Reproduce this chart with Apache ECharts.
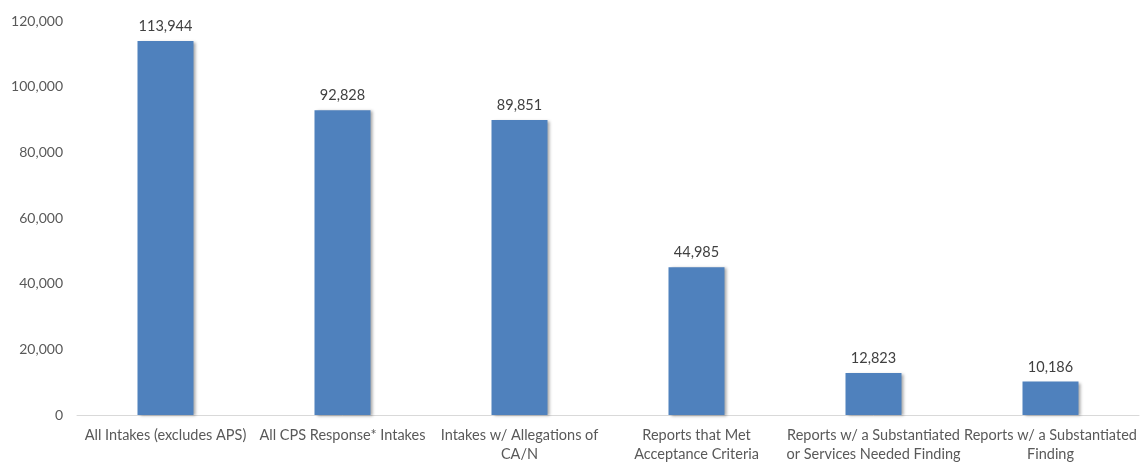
<!DOCTYPE html>
<html><head><meta charset="utf-8">
<script src="https://cdn.jsdelivr.net/npm/echarts@6/dist/echarts.min.js"></script>
<style>html,body{margin:0;padding:0;background:#fff;overflow:hidden}#c{width:1141px;height:464px}</style>
</head><body><div id="c"></div>
<script>
const categories = [
  "All Intakes (excludes APS)",
  "All CPS Response* Intakes",
  "Intakes w/ Allegations of\nCA/N",
  "Reports that Met\nAcceptance Criteria",
  "Reports w/ a Substantiated\nor Services Needed Finding",
  "Reports w/ a Substantiated\nFinding"
];
const values = [113944, 92828, 89851, 44985, 12823, 10186];

const chart = echarts.init(document.getElementById('c'));
const fmt = v => v.toLocaleString('en-US');
chart.setOption({
  animation: false,
  grid: { left: 77, right: 2, top: 21, bottom: 48, containLabel: false },
  xAxis: {
    type: 'category', data: categories,
    axisLine: { lineStyle: { color: '#d9d9d9', width: 1 } },
    axisTick: { show: false },
    axisLabel: { interval: 0, color: '#595959', fontFamily: 'Lato', fontSize: 14.5, lineHeight: 19, margin: 11, overflow: 'none' }
  },
  yAxis: {
    type: 'value', min: 0, max: 120000, interval: 20000,
    axisLine: { show: false }, axisTick: { show: false }, splitLine: { show: false },
    axisLabel: { color: '#595959', fontFamily: 'Lato', fontSize: 14, margin: 14, formatter: v => fmt(v) }
  },
  series: [{
    type: 'bar', data: values, barWidth: 56,
    itemStyle: { color: '#4F81BD', shadowColor: 'rgba(0,0,0,0.35)', shadowBlur: 3, shadowOffsetX: 2, shadowOffsetY: 1 },
    label: { show: true, position: 'top', distance: 7, color: '#404040', fontFamily: 'Lato', fontSize: 14.5, formatter: p => fmt(p.value) }
  }]
});
</script></body></html>
